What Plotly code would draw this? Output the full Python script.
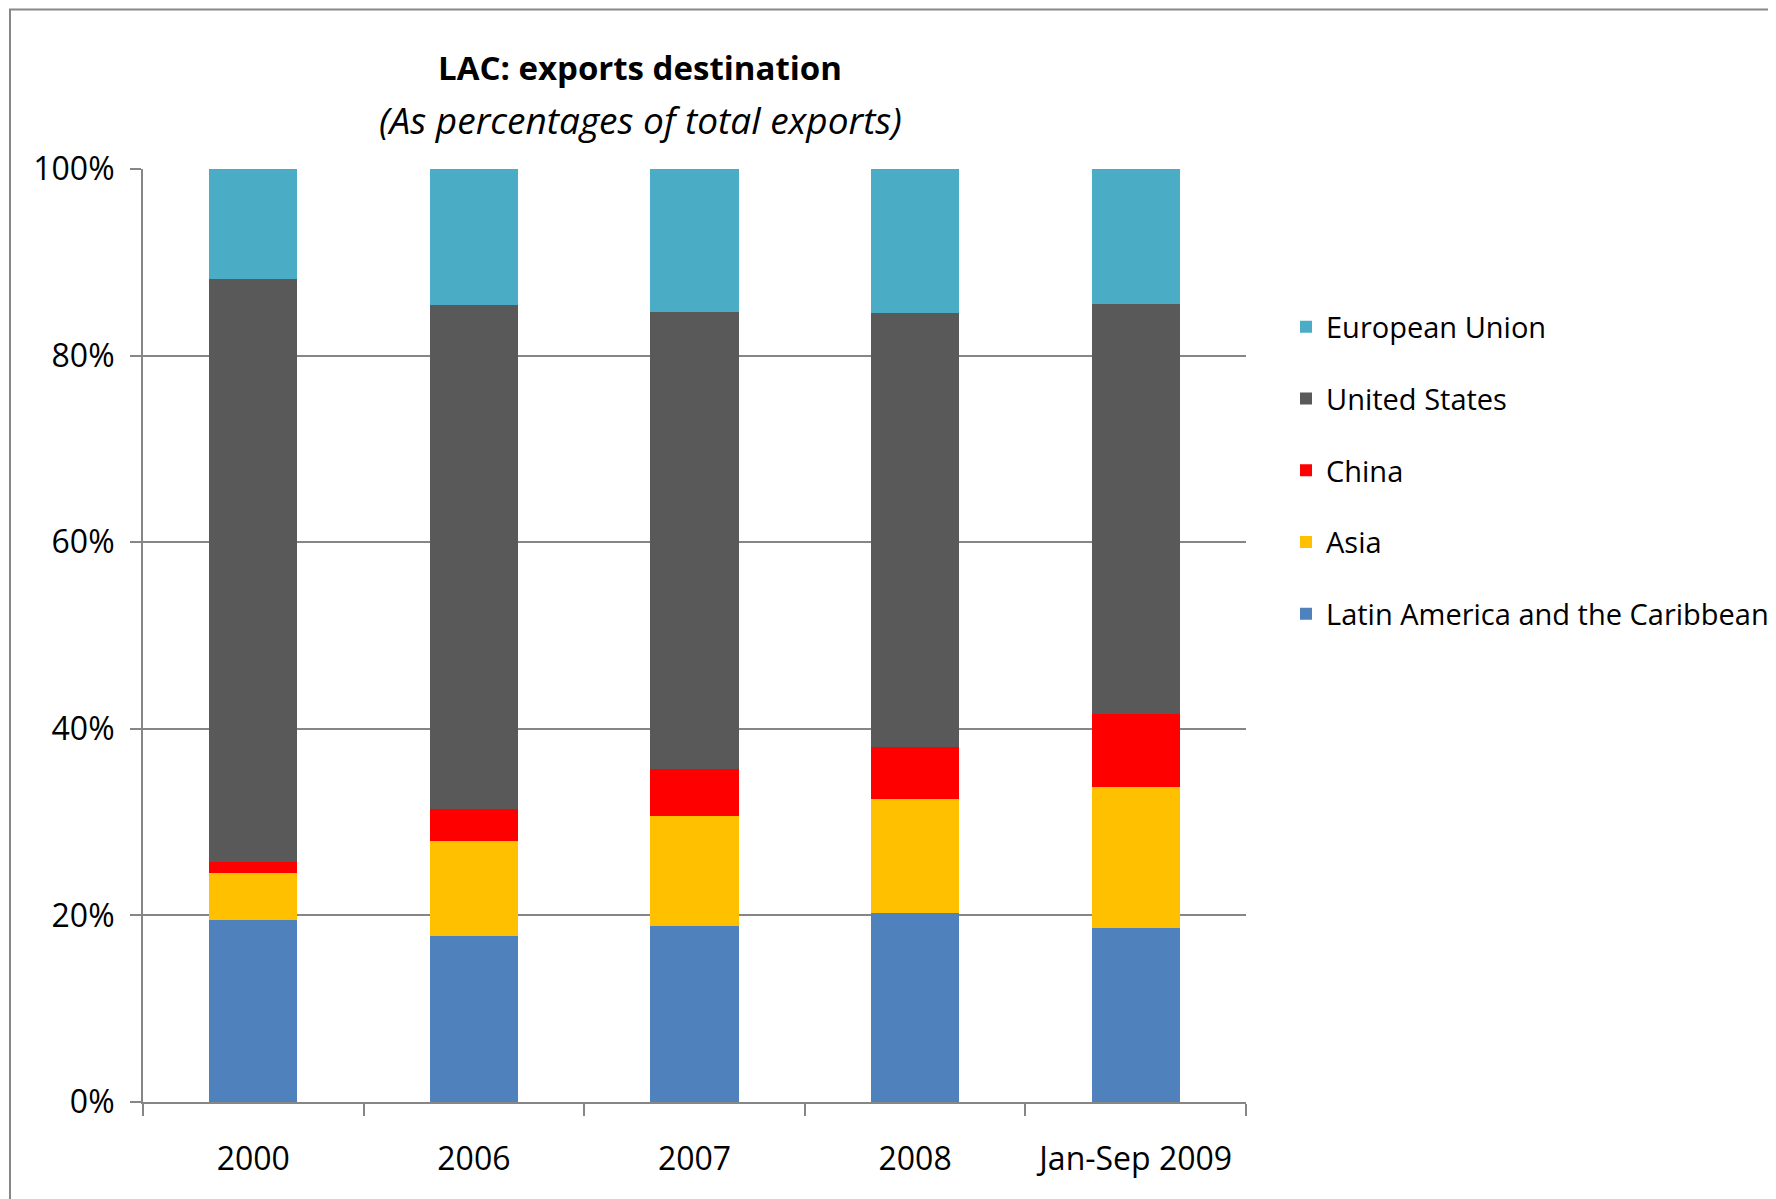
import plotly.graph_objects as go

categories = ["2000", "2006", "2007", "2008", "Jan-Sep 2009"]
lac = [19.5, 17.8, 18.9, 20.3, 18.6]
asia = [5.0, 10.2, 11.8, 12.2, 15.2]
china = [1.2, 3.4, 5.0, 5.6, 7.8]
usa = [62.5, 54.0, 49.0, 46.5, 43.9]
eu = [11.8, 14.6, 15.3, 15.4, 14.5]
tick_vals = [0, 20, 40, 60, 80, 100]
tick_text = ["0%", "20%", "40%", "60%", "80%", "100%"]

series = [
    ("Latin America and the Caribbean", lac, "#4F81BD", 5),
    ("Asia", asia, "#FFC000", 4),
    ("China", china, "#FF0000", 3),
    ("United States", usa, "#595959", 2),
    ("European Union", eu, "#4BACC6", 1),
]

W, H = 1776, 1199
OFF = 8  # default page body margin
L, R, T, B = 143 - OFF, 1246 - OFF, 169 - OFF, 1101.7 - OFF

def px_x(p):
    return (p - OFF - L) / (R - L)

def px_y(p):
    return (B - (p - OFF)) / (B - T)

FONT = "Open Sans"
fig = go.Figure()
for name, vals, col, rank in series:
    fig.add_trace(go.Bar(
        x=categories, y=vals, name=name, legendgroup=name, legendrank=rank,
        marker=dict(color=col, line=dict(width=0)),
    ))

fig.update_layout(
    width=W, height=H,
    barmode="stack", bargap=0.6,
    plot_bgcolor="white", paper_bgcolor="white",
    margin=dict(l=L, r=W - R, t=T, b=H - B, pad=0, autoexpand=False),
    font=dict(family=FONT, size=32, color="black"),
    showlegend=True,
    legend=dict(
        xref="container", yref="container",
        x=(1286 - OFF) / W, y=1 - (301.5 - OFF) / H, xanchor="left", yanchor="top",
        traceorder="grouped", tracegroupgap=31,
        font=dict(family=FONT, size=29, color="black"),
        bgcolor="rgba(0,0,0,0)", itemwidth=30,
    ),
    xaxis=dict(
        type="category", showline=True, linecolor="#868686", linewidth=2,
        ticks="outside", tickson="boundaries", ticklen=12, tickcolor="#868686", tickwidth=2,
        tickfont=dict(size=32), showgrid=False, ticklabelstandoff=28,
    ),
    yaxis=dict(
        range=[0, 100], tickvals=tick_vals, ticktext=tick_text,
        showline=True, linecolor="#868686", linewidth=2,
        ticks="outside", ticklen=11, tickcolor="#868686", tickwidth=2,
        showgrid=True, gridcolor="#868686", gridwidth=2,
        tickfont=dict(size=32), ticklabelstandoff=9, zeroline=False,
    ),
    annotations=[
        dict(text="<b>LAC: exports destination</b>", xref="paper", yref="paper",
             x=px_x(640), y=px_y(68), xanchor="center", yanchor="middle",
             showarrow=False, font=dict(family=FONT, size=33, color="black")),
        dict(text="<i>(As percentages of total exports)</i>", xref="paper", yref="paper",
             x=px_x(640), y=px_y(120), xanchor="center", yanchor="middle",
             showarrow=False, font=dict(family=FONT, size=37, color="black")),
    ],
    shapes=[
        dict(type="rect", xref="paper", yref="paper",
             x0=px_x(10), x1=px_x(1830), y0=px_y(1260), y1=px_y(9.5),
             line=dict(color="#878787", width=2), fillcolor="rgba(0,0,0,0)", layer="below"),
    ],
)

fig.write_html("out.html")
